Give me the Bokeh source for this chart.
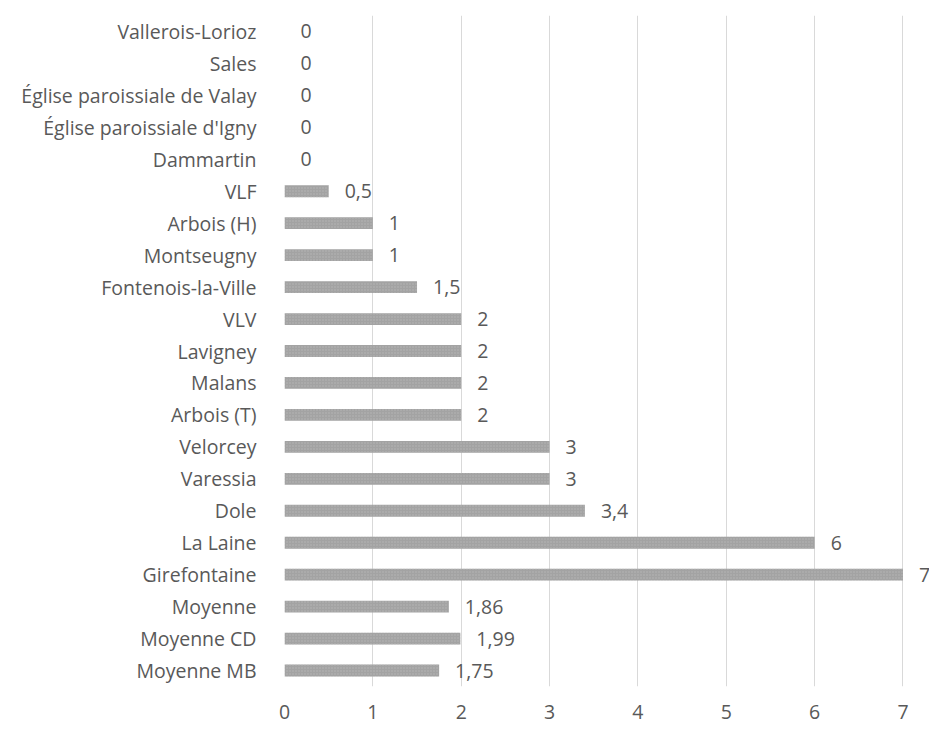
from bokeh.plotting import figure
from bokeh.models import FactorRange, Range1d, FixedTicker, ColumnDataSource
from bokeh.embed import file_html
from bokeh.resources import INLINE
from bokeh.core.properties import value

# Data (top to bottom as in the reference)
categories = [
    "Vallerois-Lorioz", "Sales", "Église paroissiale de Valay",
    "Église paroissiale d'Igny", "Dammartin", "VLF", "Arbois (H)",
    "Montseugny", "Fontenois-la-Ville", "VLV", "Lavigney", "Malans",
    "Arbois (T)", "Velorcey", "Varessia", "Dole", "La Laine",
    "Girefontaine", "Moyenne", "Moyenne CD", "Moyenne MB",
]
values = [0, 0, 0, 0, 0, 0.5, 1, 1, 1.5, 2, 2, 2, 2, 3, 3, 3.4, 6, 7, 1.86, 1.99, 1.75]
x_ticks = [0, 1, 2, 3, 4, 5, 6, 7]


def fmt(v):
    if float(v).is_integer():
        return str(int(v))
    return ("%g" % v).replace(".", ",")


labels = [fmt(v) for v in values]

FONT = "Open Sans"
TXT = "#595959"
FS = "19.5px"

src = ColumnDataSource(dict(cat=categories, val=values, lab=labels))

p = figure(
    width=929, height=724,
    y_range=FactorRange(*reversed(categories)),
    x_range=Range1d(0, 7.3),
    output_backend="svg", toolbar_location=None,
    min_border_left=284, min_border_right=0,
    min_border_top=15, min_border_bottom=38,
)
p.outline_line_color = None
p.background_fill_color = "white"
p.border_fill_color = "white"

p.hbar(y="cat", right="val", left=0, height=0.37, source=src,
       fill_color="#a3a3a3", line_color=None,
       hatch_pattern="dot", hatch_color="#b5b5b5", hatch_scale=3, hatch_weight=0.6)

p.text(x="val", y="cat", text="lab", source=src, x_offset=16,
       text_align="left", text_baseline="middle",
       text_font=value(FONT), text_font_size=FS, text_color=TXT)

p.xaxis.ticker = FixedTicker(ticks=x_ticks)
p.xgrid.ticker = FixedTicker(ticks=x_ticks)
p.xgrid.grid_line_color = "#d9d9d9"
p.xgrid.grid_line_width = 1
p.ygrid.grid_line_color = None

for ax in (p.xaxis[0], p.yaxis[0]):
    ax.axis_line_color = None
    ax.major_tick_line_color = None
    ax.minor_tick_line_color = None
    ax.major_label_text_font = FONT
    ax.major_label_text_font_size = FS
    ax.major_label_text_color = TXT

p.xaxis.major_label_standoff = 12
p.yaxis.major_label_standoff = 22

open("out.html", "w").write(file_html(p, INLINE))
